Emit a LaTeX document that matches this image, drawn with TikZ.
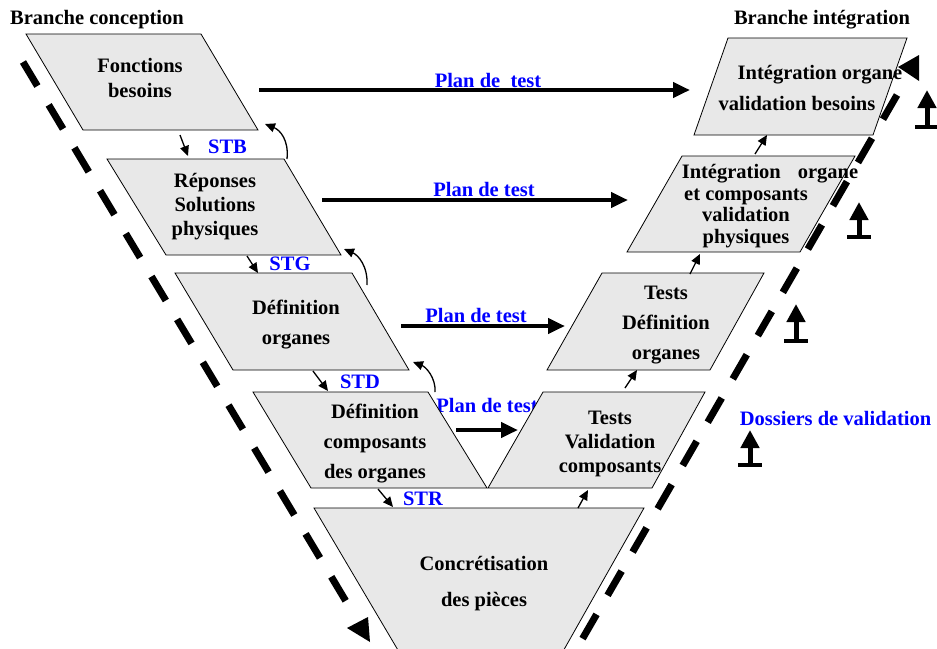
\documentclass[tikz,border=0pt]{standalone}
\usepackage{fontspec}
\setmainfont{Liberation Serif}
\usetikzlibrary{arrows.meta}
\definecolor{boxgray}{RGB}{232,232,232}
\definecolor{planblue}{RGB}{0,0,255}
\tikzset{
  stage/.style={fill=boxgray, draw=black, line width=0.8pt},
  txt/.style={inner sep=0pt, align=center, font=\bfseries\fontsize{20.5}{#1}\selectfont},
  txt/.default=24,
  bluelbl/.style={inner sep=0pt, text=planblue, font=\bfseries\fontsize{20.5}{24}\selectfont},
  plan/.style={line width=4.5pt, -{Triangle[length=17pt,width=15pt]}},
  flow/.style={line width=1.3pt, -{Triangle[length=10pt,width=9pt]}},
  vbranch/.style={line width=7pt, dash pattern=on 28pt off 22pt},
  tip/.style={fill=black},
  upshaft/.style={line width=5pt, -{Triangle[length=18pt,width=18pt]}},
  upbar/.style={line width=4.5pt}
}
\begin{document}
\begin{tikzpicture}[x=1pt,y=-1pt]
\useasboundingbox (0,0) rectangle (937,648);
\clip (0,0) rectangle (937,648);

% titles
\node[txt] (tconc) at (97,20) {Branche conception};
\node[txt] (tinteg) at (822,20) {Branche intégration};

% label under the lowest test stage
\node[bluelbl] (plan4) at (487,405) {Plan de test};

% conception branch
\path[stage] (26,34) -- (201,34) -- (258,130) -- (83,130) -- cycle;
\path[stage] (107,159) -- (284,159) -- (341,255) -- (166,255) -- cycle;
\path[stage] (175,273) -- (352,273) -- (409,370) -- (233,370) -- cycle;
\path[stage] (253,392) -- (428,392) -- (487,488) -- (311,488) -- cycle;

% integration branch
\path[stage] (543,392) -- (705,392) -- (652,488) -- (488,488) -- cycle;
\path[stage] (602,273) -- (764,273) -- (710,370) -- (547,370) -- cycle;
\path[stage] (682,156) -- (855,156) -- (800,252) -- (627,252) -- cycle;
\path[stage] (728,38) -- (907,38) -- (873,135) -- (694,135) -- cycle;

% realisation
\fill[boxgray] (314,508) -- (644,508) -- (557,662) -- (405,662) -- cycle;
\draw[line width=0.8pt] (405,662) -- (314,508) -- (644,508) -- (557,662);

% stage texts
\node[txt=25] (s1) at (140,78) {Fonctions\\besoins};
\node[txt=24] (s2) at (215,207) {Réponses\\Solutions\\physiques};
\node[txt=30] (s3) at (296,325) {Définition\\organes};
\node[txt=30] (s4) at (375,444) {Définition\\composants\\des organes};
\node[txt=24] (s5) at (610,444) {Tests\\Validation\\composants};
\node[txt=30] (s6) at (666,325) {Tests\\Définition\\organes};
\node[txt=21.7] (s7) at (746,206) {\hspace*{48pt}Intégration\hspace{17pt}organe\\et composants\\validation\\physiques};
\node[txt=31] (s8) at (797,88) {\hspace*{46pt}Intégration organe\\validation besoins};
\node[txt=36] (s9) at (484,584) {Concrétisation\\des pièces};

% test plans
\coordinate (p1a) at (259,90);  \coordinate (p1b) at (690,90);
\coordinate (p2a) at (322,200); \coordinate (p2b) at (628,200);
\coordinate (p3a) at (401,326); \coordinate (p3b) at (565,326);
\coordinate (p4a) at (456,430); \coordinate (p4b) at (518,430);
\draw[plan] (p1a) -- (p1b);
\draw[plan] (p2a) -- (p2b);
\draw[plan] (p3a) -- (p3b);
\draw[plan] (p4a) -- (p4b);
\node[bluelbl] (plan1) at (488,80) {Plan de\ \ test};
\node[bluelbl] (plan2) at (484,189) {Plan de test};
\node[bluelbl] (plan3) at (476,315) {Plan de test};

% specifications going down
\coordinate (d1a) at (180,135); \coordinate (d1b) at (188,156);
\coordinate (d2a) at (247,256); \coordinate (d2b) at (258,273);
\coordinate (d3a) at (313,371); \coordinate (d3b) at (328,391);
\coordinate (d4a) at (378,489); \coordinate (d4b) at (393,507);
\draw[flow] (d1a) -- (d1b);
\draw[flow] (d2a) -- (d2b);
\draw[flow] (d3a) -- (d3b);
\draw[flow] (d4a) -- (d4b);
\node[bluelbl] (stb) at (227.5,147) {STB};
\node[bluelbl] (stg) at (290,264) {STG};
\node[bluelbl] (std) at (360,382) {STD};
\node[bluelbl] (str) at (423,499) {STR};

% feedback loops
\coordinate (r1a) at (287,159); \coordinate (r1b) at (265,124);
\coordinate (r2a) at (367,285); \coordinate (r2b) at (344,249);
\coordinate (r3a) at (435,392); \coordinate (r3b) at (413,362);
\draw[flow] (r1a) .. controls (289,140) and (280,130) .. (r1b);
\draw[flow] (r2a) .. controls (368,266) and (358,255) .. (r2b);
\draw[flow] (r3a) .. controls (436,378) and (426,367) .. (r3b);

% integration steps going up
\coordinate (u1a) at (578,508); \coordinate (u1b) at (588,490);
\coordinate (u2a) at (625,388); \coordinate (u2b) at (637,370);
\coordinate (u3a) at (690,274); \coordinate (u3b) at (700,254);
\coordinate (u4a) at (755,154); \coordinate (u4b) at (767,135);
\draw[flow] (u1a) -- (u1b);
\draw[flow] (u2a) -- (u2b);
\draw[flow] (u3a) -- (u3b);
\draw[flow] (u4a) -- (u4b);

% the two branches of the V
\coordinate (lv1) at (23,62);  \coordinate (lv2) at (347,603);
\coordinate (rv1) at (897,95); \coordinate (rv2) at (569,662);
\draw[vbranch] (lv1) -- (lv2);
\draw[vbranch] (rv1) -- (rv2);
\fill[tip] (347,628) -- (368,617) -- (370,642) -- cycle;
\fill[tip] (898,67) -- (919,55) -- (919,81) -- cycle;

% validation files
\node[bluelbl] (dossiers) at (835.5,418) {Dossiers de validation};
\foreach \n/\x/\t/\b in {k1/927/90/127, k2/859/202/237, k3/796/304/341, k4/750/430/465}{
  \coordinate (\n top) at (\x,\t);
  \coordinate (\n foot) at (\x,\b);
  \draw[upshaft] (\n foot) -- (\n top);
  \draw[upbar] ([xshift=-12pt]\n foot) -- ([xshift=12pt]\n foot);
}
\end{tikzpicture}
\end{document}
